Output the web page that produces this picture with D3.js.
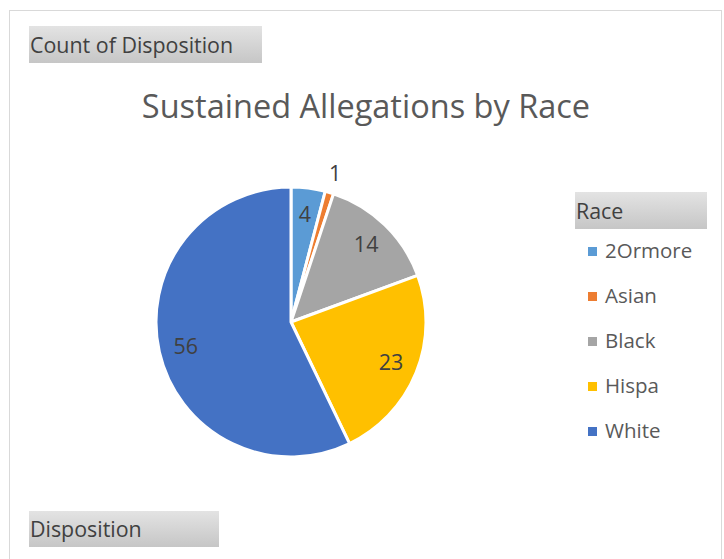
<!DOCTYPE html>
<html>
<head>
<meta charset="utf-8">
<script src="https://cdn.jsdelivr.net/npm/d3@7"></script>
<style>
  body { margin: 0; background: #fff; }
  svg text { font-family: "Open Sans", "Noto Sans", sans-serif; }
</style>
</head>
<body>
<div id="chart"></div>
<script>
// Pivot pie chart: sustained allegations by race

const races = ['2Ormore', 'Asian', 'Black', 'Hispa', 'White'];
const counts = [4, 1, 14, 23, 56];
const colors = ['#5B9BD5', '#ED7D31', '#A5A5A5', '#FFC000', '#4472C4'];
const outsideLabels = ['Asian'];

const width = 724, height = 559;
const cx = 291, cy = 322, radius = 135;

const svg = d3.select('#chart').append('svg')
    .attr('width', width)
    .attr('height', height);

// chart area border
svg.append('rect')
    .attr('x', 9.5).attr('y', 10.5)
    .attr('width', 712).attr('height', 560)
    .attr('fill', '#fff')
    .attr('stroke', '#d9d9d9');

// gray gradient for pivot field buttons
const grad = svg.append('defs').append('linearGradient')
    .attr('id', 'btn').attr('x1', 0).attr('y1', 0).attr('x2', 0).attr('y2', 1);
grad.append('stop').attr('offset', '0%').attr('stop-color', '#e3e3e3');
grad.append('stop').attr('offset', '100%').attr('stop-color', '#c6c6c6');

function fieldButton(x, y, w, h, label) {
    const g = svg.append('g').attr('transform', `translate(${x},${y})`);
    g.append('rect')
        .attr('width', w).attr('height', h)
        .attr('fill', 'url(#btn)');
    g.append('text')
        .attr('x', 1).attr('y', h / 2 + 8)
        .style('font-size', '21.4px')
        .attr('fill', '#404040')
        .text(label);
    return g;
}

fieldButton(29, 26, 233, 37, 'Count of Disposition');
fieldButton(29, 511, 190, 36, 'Disposition');
fieldButton(575, 192, 132, 37, 'Race');

// Title
svg.append('text')
    .attr('x', 366).attr('y', 118)
    .attr('text-anchor', 'middle')
    .style('font-size', '32.5px')
    .attr('fill', '#595959')
    .text('Sustained Allegations by Race');

// Pie
const data = races.map((r, i) => ({ race: r, value: counts[i], color: colors[i] }));
const pie = d3.pie().sort(null).value(d => d.value);
const arc = d3.arc().innerRadius(0).outerRadius(radius);
const labelArc = d3.arc().innerRadius(radius * 0.8).outerRadius(radius * 0.8);
const outerArc = d3.arc().innerRadius(radius + 20).outerRadius(radius + 20);

const pg = svg.append('g').attr('transform', `translate(${cx},${cy})`);
const arcs = pie(data);

pg.selectAll('path')
    .data(arcs)
    .enter().append('path')
    .attr('d', arc)
    .attr('fill', d => d.data.color)
    .attr('stroke', '#fff')
    .attr('stroke-width', 3)
    .attr('stroke-linejoin', 'round');

pg.selectAll('text.lbl')
    .data(arcs)
    .enter().append('text')
    .attr('class', 'lbl')
    .attr('transform', d => {
        const c = outsideLabels.includes(d.data.race) ? outerArc.centroid(d) : labelArc.centroid(d);
        return `translate(${c[0]},${c[1]})`;
    })
    .attr('text-anchor', 'middle')
    .attr('dy', '0.35em')
    .style('font-size', '21.5px')
    .attr('fill', '#404040')
    .text(d => d.data.value);

// Legend
const legend = svg.append('g').attr('transform', 'translate(588,251)');
const items = legend.selectAll('g')
    .data(data)
    .enter().append('g')
    .attr('transform', (d, i) => `translate(0,${i * 45})`);
items.append('rect')
    .attr('x', 0).attr('y', -4)
    .attr('width', 9).attr('height', 9)
    .attr('fill', d => d.color);
items.append('text')
    .attr('x', 17).attr('y', 0)
    .attr('dy', '0.35em')
    .style('font-size', '20.5px')
    .attr('fill', '#595959')
    .text(d => d.race);
</script>
</body>
</html>
